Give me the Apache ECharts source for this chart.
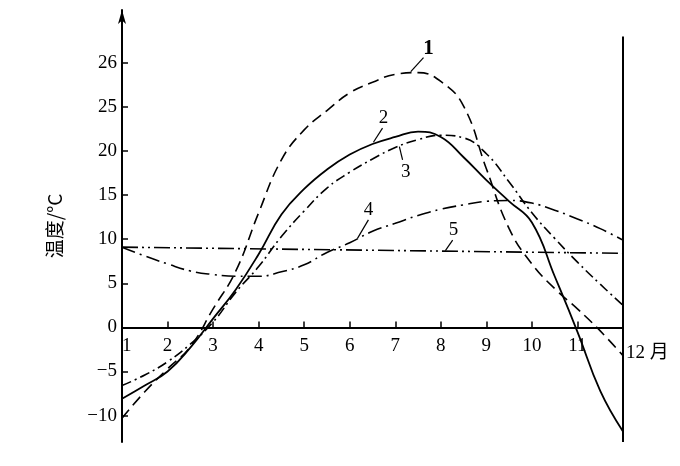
<!DOCTYPE html>
<html><head><meta charset="utf-8">
<script src="https://cdn.jsdelivr.net/npm/echarts@6/dist/echarts.min.js"></script>
<style>html,body{margin:0;padding:0;background:#fff}#c{width:680px;height:466px}</style>
</head><body><div id="c"></div>
<script>
// Data (months, temperatures in °C)
const months = [1,1.5,2,2.5,3,3.5,4,4.5,5,5.5,6,6.5,7,7.5,8,8.5,9,9.5,10,10.5,11,11.5,12];
const curve1 = [-10.3,-7.3,-4.7,-2.2,2.1,6.4,13.0,19.0,22.4,24.6,26.6,27.8,28.7,28.9,27.9,25.1,18.0,11.2,7.2,4.4,2.1,-0.4,-3.2];
const curve2 = [-8.1,-6.6,-5.0,-2.3,1.0,4.3,8.3,12.8,15.7,17.9,19.6,20.8,21.6,22.2,21.6,19.3,16.7,14.3,11.9,5.8,-0.5,-7.2,-11.8];
const curve3 = [-6.6,-5.4,-3.9,-1.9,0.6,4.0,6.9,10.3,13.2,15.8,17.6,19.1,20.4,21.3,21.8,21.5,19.7,16.5,13.0,10.1,7.4,4.9,2.5];
const curve4 = [9.1,8.1,7.2,6.4,6.0,5.8,5.8,6.3,7.1,8.5,9.6,10.9,11.8,12.7,13.4,13.9,14.3,14.4,14.1,13.3,12.3,11.2,9.9];
const curve5Months = [1,12];
const curve5 = [9.1,8.4];
const curveNames = ['1','2','3','4','5'];
// curve label anchors: [textMonth, textTemp, leaderFromMonth, leaderFromTemp, leaderToMonth, leaderToTemp]
const curveLabelPos = [
  [7.73,31.6, 7.62,30.6, 7.34,29.0],
  [6.74,23.8, 6.72,22.6, 6.52,21.0],
  [7.23,17.6, 7.16,19.0, 7.09,20.5],
  [6.41,13.3, 6.41,12.2, 6.17,10.1],
  [8.28,11.0, 8.26,9.9, 8.10,8.7]
];
const xTickValues = [1,2,3,4,5,6,7,8,9,10,11];
const xTickLabels = ['1','2','3','4','5','6','7','8','9','10','11'];
const yTickValues = [-10,-5,0,5,10,15,20,25,30];
const yTickLabels = ['\u221210','\u22125','0','5','10','15','20','25','26'];
const yAxisTitle = '温度/°C';
const xAxisTitle = '12 月';

const Y_MIN = -13, Y_MAX = 36, GRID_TOP = 10, GRID_BOTTOM = 24, H = 466;
const gridH = H - GRID_TOP - GRID_BOTTOM;
const xAxisOffset = -((0 - Y_MIN) / (Y_MAX - Y_MIN)) * gridH;

const serif = "'Liberation Serif','DejaVu Serif','Noto Sans CJK SC',serif";
const pair = (xs, ys) => xs.map((x, i) => [x, ys[i]]);
const styles = [
  {type:[11,6], width:1.6},
  {type:'solid', width:1.8},
  {type:[10,4,2,4], width:1.6},
  {type:[14,5,2,5], width:1.6},
  {type:[16,4,2,4,2,4], width:1.6}
];
const seriesData = [
  pair(months, curve1), pair(months, curve2), pair(months, curve3),
  pair(months, curve4), pair(curve5Months, curve5)
];
const series = seriesData.map((d, i) => {
  const p = curveLabelPos[i];
  return {
    type:'line', name:curveNames[i], data:d, smooth: i === 4 ? false : 0.45,
    symbol:'none', silent:true,
    lineStyle:{color:'#000', width:styles[i].width, type:styles[i].type},
    markLine:{
      silent:true, symbol:['none','none'], label:{show:false},
      lineStyle:{color:'#000', type:'solid', width:1.2},
      data:[[{coord:[p[2],p[3]]},{coord:[p[4],p[5]]}]]
    },
    markPoint:{
      silent:true, symbol:'circle', symbolSize:1, itemStyle:{color:'rgba(0,0,0,0)'},
      label:{show:true, position:'inside', color:'#000', fontFamily:serif, fontSize: i===0?21:19,
        fontWeight: i===0?'bold':'normal', formatter:curveNames[i]},
      data:[{coord:[p[0],p[1]]}]
    }
  };
});
series.push({
  type:'line', name:'border', data:[[12,-13],[12,33]], symbol:'none', silent:true,
  lineStyle:{color:'#000', width:2, type:'solid'}
});

const chart = echarts.init(document.getElementById('c'), null, {renderer:'canvas'});
chart.setOption({
  animation:false,
  backgroundColor:'#fff',
  grid:{left:122, right:57, top:GRID_TOP, bottom:GRID_BOTTOM, containLabel:false},
  xAxis:{
    type:'value', min:1, max:12, position:'bottom', offset:xAxisOffset,
    axisLine:{onZero:false, lineStyle:{color:'#000', width:2}},
    axisTick:{show:true, inside:true, length:6, lineStyle:{color:'#000', width:1.5}, customValues:xTickValues.slice(1)},
    axisLabel:{color:'#000', fontFamily:serif, fontSize:19, margin:9, alignMinLabel:'left',
      customValues:xTickValues, formatter:(v)=>{const k=xTickValues.indexOf(v); return k>=0?xTickLabels[k]:'';}},
    splitLine:{show:false},
    name:xAxisTitle, nameLocation:'end', nameGap:3,
    nameTextStyle:{color:'#000', fontFamily:serif, fontSize:19, verticalAlign:'top', padding:[16,0,0,0]}
  },
  yAxis:{
    type:'value', min:Y_MIN, max:Y_MAX,
    axisLine:{onZero:false, lineStyle:{color:'#000', width:2}, symbol:['none','arrow'], symbolSize:[6,14]},
    axisTick:{show:true, inside:true, length:6, lineStyle:{color:'#000', width:1.5}, customValues:yTickValues},
    axisLabel:{color:'#000', fontFamily:serif, fontSize:19, margin:5,
      customValues:yTickValues, formatter:(v)=>{const k=yTickValues.indexOf(v); return k>=0?yTickLabels[k]:'';}},
    splitLine:{show:false},
    name:yAxisTitle, nameLocation:'middle', nameGap:58, nameRotate:90,
    nameTextStyle:{color:'#000', fontFamily:"'Noto Sans CJK SC',sans-serif", fontSize:19}
  },
  series:series
});
</script>
</body></html>
